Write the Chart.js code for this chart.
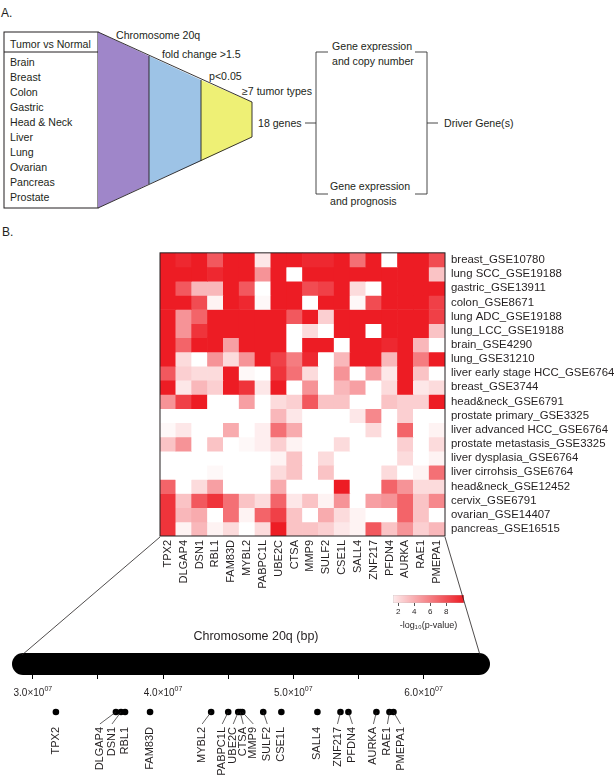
<!DOCTYPE html>
<html>
<head>
<meta charset="utf-8">
<script src="https://cdn.jsdelivr.net/npm/chart.js@4.4.1/dist/chart.umd.min.js"></script>
<style>
body{margin:0;background:#fff;font-family:"Liberation Sans",Arial,sans-serif;color:#231F20}
#page{position:relative;width:616px;height:776px;overflow:hidden;background:#fff}
.abs{position:absolute}
svg text{font-family:"Liberation Sans",Arial,sans-serif;fill:#231F20}
</style>
</head>
<body>
<div id="page">

<svg class="abs" style="left:0;top:0" width="616" height="240">
  <text x="1" y="17" font-size="12">A.</text>
  <rect x="4" y="32" width="94" height="176" fill="#fff" stroke="#231F20" stroke-width="1"/>
  <line x1="4" y1="52" x2="98" y2="52" stroke="#231F20"/>
  <g font-size="10.6">
    <text x="10" y="47.5">Tumor vs Normal</text>
    <text x="10" y="66">Brain</text>
    <text x="10" y="81">Breast</text>
    <text x="10" y="96">Colon</text>
    <text x="10" y="111">Gastric</text>
    <text x="10" y="126">Head &amp; Neck</text>
    <text x="10" y="141">Liver</text>
    <text x="10" y="156">Lung</text>
    <text x="10" y="171">Ovarian</text>
    <text x="10" y="186">Pancreas</text>
    <text x="10" y="201">Prostate</text>
  </g>
  <polygon points="98,32 149,56 149,184 98,208" fill="#9F86C9"/>
  <polygon points="149,56 201,80 201,161 149,184" fill="#9DC3E6"/>
  <polygon points="201,80 252,102 252,137 201,161" fill="#EEF075"/>
  <polyline points="98,32 252,102 252,137 98,208" fill="none" stroke="#231F20" stroke-width="0.9"/>
  <line x1="149" y1="56" x2="149" y2="184" stroke="#231F20" stroke-width="0.9"/>
  <line x1="201" y1="80" x2="201" y2="161" stroke="#231F20" stroke-width="0.9"/>
  <g font-size="10.6">
    <text x="116" y="39">Chromosome 20q</text>
    <text x="162" y="58">fold change &gt;1.5</text>
    <text x="209" y="80">p&lt;0.05</text>
    <text x="242" y="95">≥7 tumor types</text>
    <text x="258" y="127">18 genes</text>
    <text x="332" y="50">Gene expression</text>
    <text x="332" y="65">and copy number</text>
    <text x="330" y="190">Gene expression</text>
    <text x="330" y="205">and prognosis</text>
    <text x="444" y="127">Driver Gene(s)</text>
  </g>
  <g stroke="#333" stroke-width="0.9" fill="none">
    <line x1="305" y1="123" x2="316" y2="123"/>
    <polyline points="328,52 316,52 316,194 328,194"/>
    <polyline points="415,52 427,52 427,194 415,194"/>
    <line x1="427" y1="123" x2="438" y2="123"/>
  </g>
  <text x="2" y="236" font-size="12">B.</text>
</svg>

<canvas id="heat" class="abs" style="left:0;top:240px" width="616" height="360"></canvas>
<canvas id="scale" class="abs" style="left:383px;top:590px" width="92" height="41"></canvas>
<canvas id="chrom" class="abs" style="left:0;top:620px" width="616" height="156"></canvas>
<div class="abs" style="left:156px;top:629px;width:200px;text-align:center;font-size:12.5px">Chromosome 20q (bp)</div>

<svg class="abs" style="left:0;top:0;pointer-events:none" width="616" height="776">
  <line x1="160" y1="537" x2="22" y2="655" stroke="#231F20" stroke-width="0.8"/>
  <line x1="445" y1="537" x2="480" y2="655" stroke="#231F20" stroke-width="0.8"/>
</svg>
</div>

<script>
// genes in chromosome order (heatmap columns)
var genes = ['TPX2','DLGAP4','DSN1','RBL1','FAM83D','MYBL2','PABPC1L','UBE2C','CTSA',
             'MMP9','SULF2','CSE1L','SALL4','ZNF217','PFDN4','AURKA','RAE1','PMEPA1'];

// datasets (heatmap rows, top to bottom)
var datasets = ['breast_GSE10780','lung SCC_GSE19188','gastric_GSE13911','colon_GSE8671',
  'lung ADC_GSE19188','lung_LCC_GSE19188','brain_GSE4290','lung_GSE31210',
  'liver early stage HCC_GSE6764','breast_GSE3744','head&neck_GSE6791',
  'prostate primary_GSE3325','liver advanced HCC_GSE6764','prostate metastasis_GSE3325',
  'liver dysplasia_GSE6764','liver cirrohsis_GSE6764','head&neck_GSE12452',
  'cervix_GSE6791','ovarian_GSE14407','pancreas_GSE16515'];

// -log10(p-value), one row per dataset, one column per gene
var negLogP = [
  [10,9.5,10,7.5,10,10,1.5,10,10, 9.5,9.5,10,6.5,10,0,10,10,8],
  [10,10,10,9.5,10,10,5,10,0, 10,10,10,10,10,10,10,10,3],
  [10,7.5,3.5,3.5,10,7.5,0.3,10,10, 8,8.5,10,2,0.3,10,10,10,10],
  [10,10,8,1,10,9.5,0.8,10,10, 0,10,10,0.8,8,10,10,10,8.5],
  [10,5,7,10,10,10,10,10,7.5, 10,2.5,10,10,10,10,10,10,8.5],
  [10,5,9,10,10,10,10,10,0, 2,0,10,10,0,10,10,10,3],
  [10,7,10,10,4.5,10,10,10,0, 10,10,0,10,10,9.5,10,3.5,0],
  [10,2,0,5,2,5,10,8.5,6, 9.5,0,3.5,10,10,3.5,10,6,10],
  [7.5,2.5,2,2,10,0.8,0.5,9,6.5, 2,0,5,0.3,4.5,1.5,10,3,0],
  [10,1.5,3.5,2.5,10,9,1.5,10,0, 5,0,3.5,4.5,0,2,10,1.5,2],
  [5,8.5,10,0.5,0,4.5,0,2,2.5, 7.5,3,3,0,0,3,2.5,2.5,10],
  [0,0,0,0.3,0,0,0,3.5,1.5, 0,0,0,1.5,5.5,0,2.5,0,0],
  [0.8,1.5,0,0,4,0,1.2,6.5,4, 0,0,0,0,2,0,7,0.5,1],
  [3,5,0,3,0,0.8,1.2,2.5,1, 0,0.5,2,0,0,0,2.5,0.5,2],
  [0,0.3,0,0.5,0,0,0,1,3, 0,2,0.3,0.3,0,0.3,2,0,1],
  [0,0.3,0,0.8,0,0,0,2,3, 0,3,0.3,0,0,2,0,1,6.5],
  [7,0,2,4.5,0,0.3,0.5,4,0, 0,0,10,0,0,7,5,2,2],
  [9,3,7.5,9,6.5,3,2,7,1.5, 3,1,5,0,4.5,5,7,3,5.5],
  [9,3.5,4,0,6.5,1,7,8.5,3, 0,4,2,1,0,0,7,3,0],
  [9,1,3.5,1,2,0.3,2,10,3, 3,2.5,1.5,1,7.5,3,5,2.5,3.5]
];

// colour key range and ticks
var keyMin = 1.36, keyMax = 10.2;
var keyTicks = [2, 4, 6, 8];

// chromosome 20q extent and gene start positions (bp)
var armStart = 2.84e7, armEnd = 6.51e7;
var axisTicks = [3.0e7, 3.5e7, 4.0e7, 4.5e7, 5.0e7, 5.5e7, 6.0e7];
var axisLabels = [3.0e7, 4.0e7, 5.0e7, 6.0e7];
var genePos = [3.177e7, 3.638e7, 3.677e7, 3.708e7, 3.90e7, 4.369e7, 4.50e7, 4.577e7, 4.592e7,
               4.608e7, 4.769e7, 4.908e7, 5.185e7, 5.362e7, 5.423e7, 5.638e7, 5.738e7, 5.769e7];
// label nudges (px) so crowded names don't overlap
var labelShift = [0,-16,-9,0,0,-9,-6,-5,3,11,4,0,0,-3,4,-3,-2,7];

var FONT = '"Liberation Sans", Arial, sans-serif';
var INK = '#231F20';
Chart.defaults.font.family = FONT;
Chart.defaults.color = INK;

function heatColor(v){
  var t = Math.max(0, Math.min(1, (v - 0.5) / 9.5));
  var r = Math.round(255 + (237 - 255) * t);
  var g = Math.round(255 + (28 - 255) * t);
  var b = Math.round(255 + (36 - 255) * t);
  return 'rgb(' + r + ',' + g + ',' + b + ')';
}

// Heatmap: one floating-bar dataset per row
var heatSets = [];
for (var i = 0; i < datasets.length; i++) {
  var level = datasets.length - 1 - i;
  var cells = [];
  for (var j = 0; j < genes.length; j++) cells.push([level, level + 1]);
  heatSets.push({
    label: datasets[i],
    data: cells,
    backgroundColor: negLogP[i].map(heatColor),
    borderWidth: 0,
    barPercentage: 1,
    categoryPercentage: 1
  });
}

var frame = {
  id: 'frame',
  afterDatasetsDraw: function(chart){
    var a = chart.chartArea, c = chart.ctx;
    c.save();
    c.strokeStyle = INK;
    c.lineWidth = 1;
    c.strokeRect(a.left, a.top, a.right - a.left, a.bottom - a.top);
    c.restore();
  }
};

new Chart(document.getElementById('heat'), {
  type: 'bar',
  data: { labels: genes, datasets: heatSets },
  options: {
    responsive: false,
    animation: false,
    layout: { padding: { left: 160, top: 12, right: 0, bottom: 0 } },
    plugins: { legend: { display: false }, tooltip: { enabled: false } },
    scales: {
      x: {
        stacked: true,
        grid: { display: false, drawTicks: false },
        border: { display: false },
        ticks: { autoSkip: false, minRotation: 90, maxRotation: 90, padding: 4,
                 font: { size: 11 }, color: INK },
        afterFit: function(s){ s.height = 64; }
      },
      y: {
        position: 'right',
        min: 0, max: datasets.length,
        grid: { display: false, drawTicks: false },
        border: { display: false },
        afterBuildTicks: function(s){
          s.ticks = datasets.map(function(n, k){ return { value: datasets.length - 0.5 - k }; });
        },
        ticks: {
          padding: 6, font: { size: 11.4 }, color: INK, autoSkip: false,
          callback: function(v){ return datasets[Math.round(datasets.length - 0.5 - v)]; }
        },
        afterFit: function(s){ s.width = 171; }
      }
    }
  },
  plugins: [frame]
});

// Colour key
new Chart(document.getElementById('scale'), {
  type: 'bar',
  data: {
    labels: [''],
    datasets: [{
      data: [[keyMin, keyMax]],
      barPercentage: 1, categoryPercentage: 1,
      borderWidth: 0.6, borderColor: '#bbb', borderSkipped: false,
      backgroundColor: function(ctx){
        var a = ctx.chart.chartArea;
        if (!a) return '#f66';
        var g = ctx.chart.ctx.createLinearGradient(a.left, 0, a.right, 0);
        g.addColorStop(0, heatColor(keyMin));
        g.addColorStop(1, heatColor(keyMax));
        return g;
      }
    }]
  },
  options: {
    indexAxis: 'y',
    responsive: false,
    animation: false,
    layout: { padding: { left: 10, right: 11, top: 5, bottom: 0 } },
    plugins: { legend: { display: false }, tooltip: { enabled: false } },
    scales: {
      y: { display: false },
      x: {
        min: keyMin, max: keyMax,
        afterBuildTicks: function(s){ s.ticks = keyTicks.map(function(v){ return { value: v }; }); },
        grid: { drawOnChartArea: false, tickLength: 3, color: '#555' },
        border: { display: false },
        ticks: { padding: 1, font: { size: 8 }, color: INK },
        title: { display: true, text: '-log₁₀(p-value)', font: { size: 9 }, padding: 0, color: INK },
        afterFit: function(s){ s.height = 28; }
      }
    }
  }
});

// Chromosome 20q with gene positions
var dotRow = -1.68;
var chromPill = {
  id: 'chromPill',
  beforeDatasetsDraw: function(chart){
    var c = chart.ctx, xs = chart.scales.x, ys = chart.scales.y;
    var x0 = xs.getPixelForValue(armStart), x1 = xs.getPixelForValue(armEnd);
    var top = ys.getPixelForValue(1), h = ys.getPixelForValue(0) - top;
    c.save();
    c.fillStyle = '#000';
    c.beginPath();
    c.roundRect(x0, top, x1 - x0, h, h / 2);
    c.fill();
    c.restore();
  }
};
var chromText = {
  id: 'chromText',
  afterDatasetsDraw: function(chart){
    var c = chart.ctx, xs = chart.scales.x, ys = chart.scales.y;
    var base = ys.getPixelForValue(0);
    c.save();
    c.fillStyle = INK;
    // axis labels, e.g. 3.0x10^07
    c.textBaseline = 'alphabetic';
    axisLabels.forEach(function(v){
      var main = (v / 1e7).toFixed(1) + '×10', sup = '07';
      c.font = '10px ' + FONT;
      var w1 = c.measureText(main).width;
      c.font = '7px ' + FONT;
      var w2 = c.measureText(sup).width;
      var x = xs.getPixelForValue(v) - (w1 + w2) / 2;
      c.font = '10px ' + FONT;
      c.fillText(main, x, base + 21);
      c.font = '7px ' + FONT;
      c.fillText(sup, x + w1, base + 16);
    });
    // gene names with leader lines
    var y = ys.getPixelForValue(dotRow);
    c.strokeStyle = INK;
    c.lineWidth = 0.7;
    c.font = '11px ' + FONT;
    for (var k = 0; k < genes.length; k++) {
      var gx = xs.getPixelForValue(genePos[k]);
      var lx = gx + labelShift[k];
      if (labelShift[k] !== 0) {
        c.beginPath();
        c.moveTo(gx, y);
        c.lineTo(lx, y + 12);
        c.stroke();
      }
      c.save();
      c.translate(lx, y + 15);
      c.rotate(-Math.PI / 2);
      c.textAlign = 'right';
      c.textBaseline = 'middle';
      c.fillText(genes[k], 0, 0);
      c.restore();
    }
    c.restore();
  }
};

new Chart(document.getElementById('chrom'), {
  type: 'scatter',
  data: {
    datasets: [{
      data: genePos.map(function(p){ return { x: p, y: dotRow }; }),
      pointRadius: 3.3,
      pointBackgroundColor: '#000',
      pointBorderWidth: 0,
      clip: false
    }]
  },
  options: {
    responsive: false,
    animation: false,
    layout: { padding: { left: 12, right: 126, top: 33, bottom: 13 } },
    plugins: { legend: { display: false }, tooltip: { enabled: false } },
    scales: {
      y: { display: false, min: -4, max: 1 },
      x: {
        type: 'linear',
        position: { y: 0 },
        min: armStart, max: armEnd,
        afterBuildTicks: function(s){ s.ticks = axisTicks.map(function(v){ return { value: v }; }); },
        grid: { drawOnChartArea: false, tickLength: 4, color: '#000', lineWidth: 1 },
        border: { display: false },
        ticks: { display: false }
      }
    }
  },
  plugins: [chromPill, chromText]
});
</script>
</body>
</html>
